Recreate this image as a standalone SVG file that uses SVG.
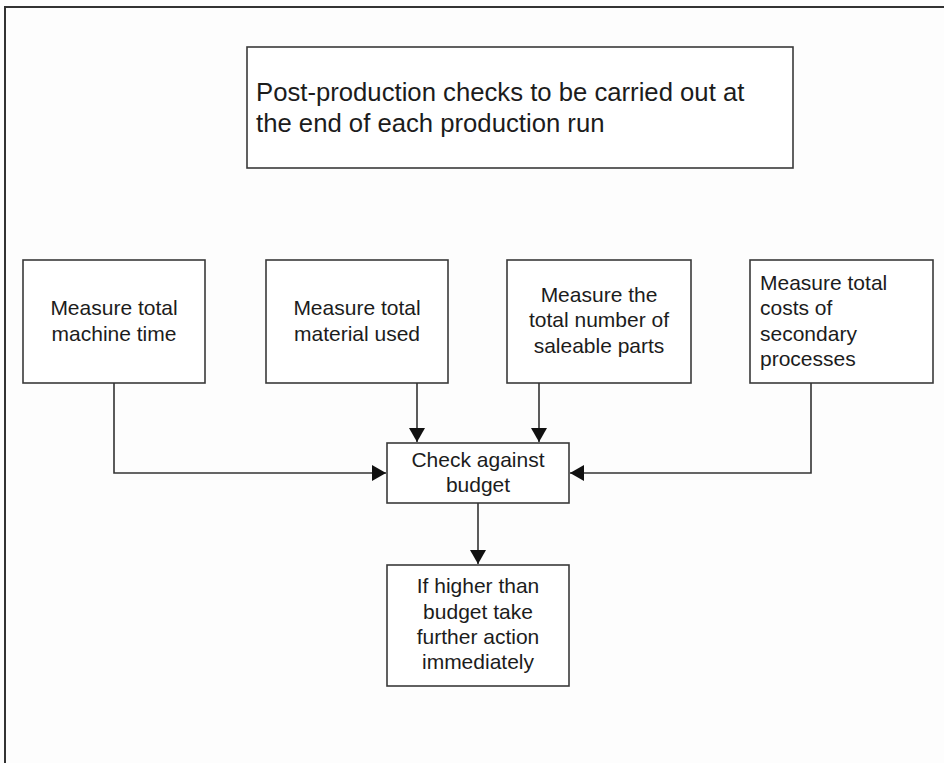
<svg xmlns="http://www.w3.org/2000/svg" width="944" height="763" viewBox="0 0 944 763">
  <style>
    .box { fill: #ffffff; stroke: #3a3a3a; stroke-width: 1.6; }
    .frame { fill: none; stroke: #333333; stroke-width: 2; }
    .wire { fill: none; stroke: #333333; stroke-width: 1.6; }
    .lbl { font-family: "Liberation Sans", Arial, sans-serif; font-size: 21px; fill: #1c1c1c; text-anchor: middle; }
    .left { text-anchor: start; }
    .title { font-size: 25.7px; text-anchor: start; }
  </style>
  <defs>
    <marker id="arrow" viewBox="0 0 14 16" refX="14" refY="8" markerWidth="14" markerHeight="16" markerUnits="userSpaceOnUse" orient="auto">
      <path d="M0,0 L14,8 L0,16 Z" fill="#111111"/>
    </marker>
  </defs>
  <rect width="944" height="763" fill="#fdfdfd"/>
  <!-- page frame: top and left rules only -->
  <path class="frame" d="M5,763 V7 H944"/>

  <g id="header">
    <rect class="box" x="247" y="47" width="546" height="121"/>
    <text class="lbl title" x="256" y="101">Post-production checks to be carried out at</text>
    <text class="lbl title" x="256" y="132">the end of each production run</text>
  </g>

  <g id="machine-time">
    <rect class="box" x="23" y="260" width="182" height="123"/>
    <text class="lbl" x="114" y="315">Measure total</text>
    <text class="lbl" x="114" y="341">machine time</text>
  </g>

  <g id="material-used">
    <rect class="box" x="266" y="260" width="182" height="123"/>
    <text class="lbl" x="357" y="315">Measure total</text>
    <text class="lbl" x="357" y="341">material used</text>
  </g>

  <g id="saleable-parts">
    <rect class="box" x="507" y="260" width="184" height="123"/>
    <text class="lbl" x="599" y="302">Measure the</text>
    <text class="lbl" x="599" y="327">total number of</text>
    <text class="lbl" x="599" y="353">saleable parts</text>
  </g>

  <g id="secondary-costs">
    <rect class="box" x="750" y="260" width="183" height="123"/>
    <text class="lbl left" x="760" y="290">Measure total</text>
    <text class="lbl left" x="760" y="315">costs of</text>
    <text class="lbl left" x="760" y="341">secondary</text>
    <text class="lbl left" x="760" y="366">processes</text>
  </g>

  <g id="check-budget">
    <rect class="box" x="387" y="443" width="182" height="60"/>
    <text class="lbl" x="478" y="467">Check against</text>
    <text class="lbl" x="478" y="492">budget</text>
  </g>

  <g id="take-action">
    <rect class="box" x="387" y="565" width="182" height="121"/>
    <text class="lbl" x="478" y="593">If higher than</text>
    <text class="lbl" x="478" y="619">budget take</text>
    <text class="lbl" x="478" y="644">further action</text>
    <text class="lbl" x="478" y="669">immediately</text>
  </g>

  <g id="connectors">
    <path class="wire" marker-end="url(#arrow)" d="M114,383 V473 H386"/>
    <path class="wire" marker-end="url(#arrow)" d="M417,383 V442"/>
    <path class="wire" marker-end="url(#arrow)" d="M539,383 V442"/>
    <path class="wire" marker-end="url(#arrow)" d="M811,383 V473 H570"/>
    <path class="wire" marker-end="url(#arrow)" d="M478,503 V564"/>
  </g>
</svg>
